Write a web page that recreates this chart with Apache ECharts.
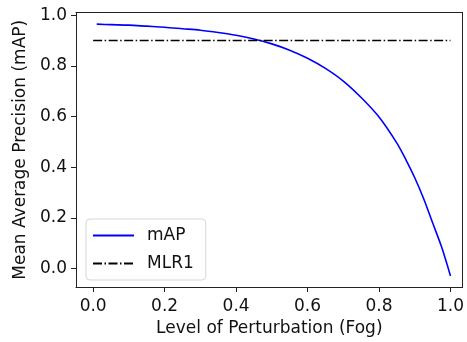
<!DOCTYPE html>
<html><head><meta charset="utf-8">
<script src="https://cdn.jsdelivr.net/npm/echarts@6/dist/echarts.min.js"></script>
<style>html,body{margin:0;padding:0;background:#fff}#c{width:467px;height:342px}</style>
</head><body><div id="c"></div>
<script>
const levels = [0.01,0.05,0.10,0.15,0.20,0.25,0.30,0.35,0.40,0.45,0.50,0.55,0.60,0.65,0.70,0.75,0.80,0.85,0.875,0.90,0.925,0.95,0.975,1.00];
const mAP    = [0.965,0.963,0.961,0.957,0.953,0.947,0.941,0.932,0.921,0.906,0.887,0.862,0.830,0.790,0.740,0.675,0.598,0.495,0.430,0.358,0.275,0.180,0.085,-0.030];
const mlrX = [0.0, 1.0];
const mlr1 = [0.9, 0.9];
const tickVals = [0, 0.2, 0.4, 0.6, 0.8, 1.0];
const xLabel = 'Level of Perturbation (Fog)';
const yLabel = 'Mean Average Precision (mAP)';

const font = 'DejaVu Sans';
const chart = echarts.init(document.getElementById('c'), null, {renderer:'canvas'});
const axisBase = {
  axisLine:{show:true, onZero:false, lineStyle:{color:'#222', width:1}},
  splitLine:{show:false}
};
chart.setOption({
  animation:false,
  backgroundColor:'#fff',
  grid:{left:76, right:3, top:12.5, bottom:52},
  legend:{
    left:86, top:219, orient:'vertical',
    itemWidth:41, itemHeight:10, itemGap:11,
    padding:[8,12,8,6],
    backgroundColor:'rgba(255,255,255,0.8)',
    borderColor:'#d6d6d6', borderWidth:1, borderRadius:4,
    itemStyle:{opacity:0},
    textStyle:{fontFamily:font, fontSize:17, color:'#111', padding:[0,0,0,8]},
    data:[{name:'mAP'},{name:'MLR1'}]
  },
  xAxis:[
    Object.assign({type:'value', min:-0.048, max:1.034, position:'bottom',
      name:xLabel, nameLocation:'middle', nameGap:27,
      nameTextStyle:{fontFamily:font, fontSize:17, color:'#111'},
      axisTick:{show:true, inside:false, length:5, customValues:tickVals, lineStyle:{color:'#222'}},
      axisLabel:{fontFamily:font, fontSize:17, color:'#111', margin:11, customValues:tickVals,
        formatter:v=>v.toFixed(1)}}, axisBase),
    Object.assign({type:'value', min:-0.048, max:1.034, position:'top',
      axisTick:{show:false}, axisLabel:{show:false}}, axisBase)
  ],
  yAxis:[
    Object.assign({type:'value', min:-0.074, max:1.011, position:'left',
      name:yLabel, nameLocation:'middle', nameGap:45,
      nameTextStyle:{fontFamily:font, fontSize:17, color:'#111'},
      axisTick:{show:true, inside:false, length:5, customValues:tickVals, lineStyle:{color:'#222'}},
      axisLabel:{fontFamily:font, fontSize:17, color:'#111', margin:9, customValues:tickVals,
        formatter:v=>v.toFixed(1)}}, axisBase),
    Object.assign({type:'value', min:-0.074, max:1.011, position:'right',
      axisTick:{show:false}, axisLabel:{show:false}}, axisBase)
  ],
  series:[
    {name:'mAP', type:'line', smooth:0.3, showSymbol:false, symbol:'none',
      xAxisIndex:0, yAxisIndex:0,
      data:levels.map((x,i)=>[x,mAP[i]]),
      lineStyle:{color:'#0000ff', width:1.6}, itemStyle:{color:'#0000ff'}},
    {name:'MLR1', type:'line', showSymbol:false, symbol:'none',
      xAxisIndex:0, yAxisIndex:0,
      data:mlrX.map((x,i)=>[x,mlr1[i]]),
      lineStyle:{color:'#000', width:1.5, type:[9,2.5,1.5,2.5]}, itemStyle:{color:'#000'}}
  ]
});
</script></body></html>
